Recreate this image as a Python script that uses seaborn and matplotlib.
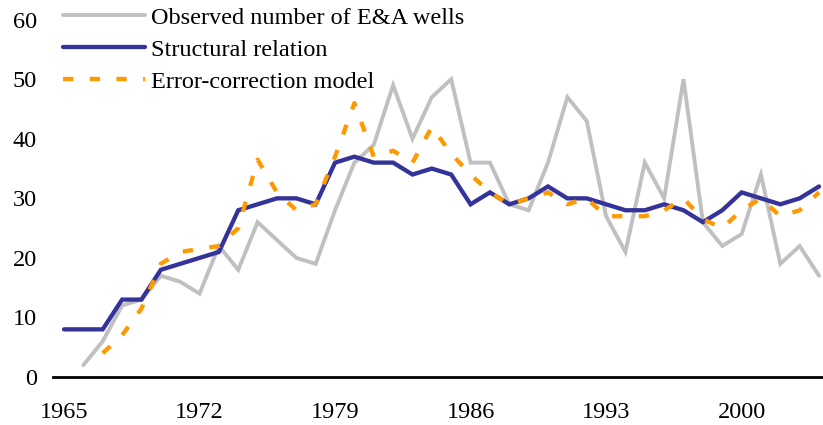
import numpy as np
import pandas as pd
import matplotlib
matplotlib.use("Agg")
import matplotlib.pyplot as plt
import seaborn as sns

years = list(range(1965, 2005))
observed = [np.nan, 2, 6, 12, 13, 17, 16, 14, 22, 18,
            26, 23, 20, 19, 28, 36, 39, 49, 40, 47,
            50, 36, 36, 29, 28, 36, 47, 43, 27, 21,
            36, 30, 50, 26, 22, 24, 34, 19, 22, 17]
structural = [8, 8, 8, 13, 13, 18, 19, 20, 21, 28,
              29, 30, 30, 29, 36, 37, 36, 36, 34, 35,
              34, 29, 31, 29, 30, 32, 30, 30, 29, 28,
              28, 29, 28, 26, 28, 31, 30, 29, 30, 32]
ecm = [np.nan, np.nan, 4, 7, 11.5, 19, 21, 21.5, 22, 25,
       36.5, 31, 28, 29, 37, 46, 37, 38, 36, 42,
       37.5, 34, 31, 29, 30, 31, 29, 30, 27, 27,
       27, 28, 30, 26.5, 25, 28, 30, 27, 28, 31]
labels = ["Observed number of E&A wells", "Structural relation", "Error-correction model"]
xticks = [1965, 1972, 1979, 1986, 1993, 2000]
yticks = [0, 10, 20, 30, 40, 50, 60]

sns.set_style("white")
plt.rcParams["font.family"] = ["Liberation Serif", "DejaVu Serif"]

df = pd.DataFrame({"year": years, "obs": observed, "str": structural, "ecm": ecm})

W, H = 823, 425
FS = 17.5
fig = plt.figure(figsize=(W / 100, H / 100), dpi=100)
left = 53 / W
bottom = 48 / H
height = (377 - 19.7) / H
ax = fig.add_axes([left, bottom, 1 - left, height])

d1 = df[["year", "obs"]].dropna()
sns.lineplot(data=d1, x="year", y="obs", ax=ax, color="#C0C0C0", linewidth=2.8,
             label=labels[0], solid_joinstyle="miter")
d2 = df[["year", "str"]].dropna()
sns.lineplot(data=d2, x="year", y="str", ax=ax, color="#333399", linewidth=3.1,
             label=labels[1], solid_joinstyle="miter")
d3 = df[["year", "ecm"]].dropna()
sns.lineplot(data=d3, x="year", y="ecm", ax=ax, color="#FF9900", linewidth=3.1,
             label=labels[2], linestyle=(0, (2.4, 3.8)), dash_capstyle="butt")

step = 19.36
x0 = 1965 - (64 - 53) / step
x1 = 1965 + (823 - 64) / step
ax.set_xlim(x0, x1)
ax.set_ylim(0, 60)
ax.set_xticks(xticks)
ax.set_xticklabels([str(t) for t in xticks])
ax.set_yticks(yticks)
ax.set_yticklabels([str(t) for t in yticks])
ax.tick_params(axis="both", length=0, labelsize=FS, colors="black")
ax.tick_params(axis="x", pad=18)
ax.tick_params(axis="y", pad=11.5)
ax.set_xlabel("")
ax.set_ylabel("")
for s in ["top", "right", "left"]:
    ax.spines[s].set_visible(False)
ax.spines["bottom"].set_color("black")
ax.spines["bottom"].set_linewidth(2.0)
ax.grid(False)

leg = ax.legend(loc="upper left", bbox_to_anchor=(63 / W, 1 - 6.5 / H),
                bbox_transform=fig.transFigure, frameon=False, fontsize=FS,
                handlelength=3.37, handletextpad=0.25, labelspacing=0.42,
                borderpad=0, borderaxespad=0)
for t in leg.get_texts():
    t.set_color("black")

fig.savefig("out.png", dpi=100)
